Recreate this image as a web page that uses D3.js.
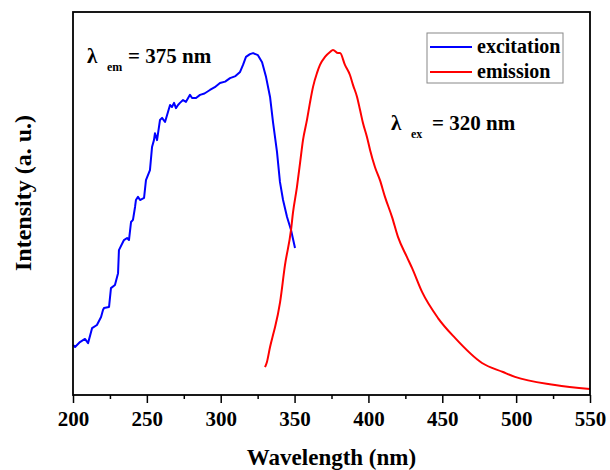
<!DOCTYPE html>
<html>
<head>
<meta charset="utf-8">
<script src="https://cdn.jsdelivr.net/npm/d3@7"></script>
<style>
  body { margin: 0; background: #fff; }
</style>
</head>
<body>
<div id="chart"></div>
<script>
// excitation spectrum (lambda_em = 375 nm)
var excWl = [200, 201.4, 204.7, 208.1, 210.2, 212.9, 216.2, 219.0, 220.3, 221.0, 224.4, 225.7, 228.4, 230.5, 231.1,
  234.5, 236.6, 237.9, 239.3, 240.6, 242.0, 242.6, 244.0, 245.4, 248.1, 249.4, 252.1, 253.5, 254.8, 255.5,
  256.9, 258.9, 260.3, 262.3, 264.3, 265.7, 267.0, 268.4, 269.7, 271.1, 272.4, 274.5, 276.5, 279.2, 280.6,
  283.3, 286.0, 289.0, 292.7, 296.0, 299.5, 303.0, 306.3, 310.0, 313.1, 315.1, 317.1, 319.8, 321.9, 325.2,
  328.0, 330.7, 333.4, 335.4, 338.1, 340.1, 342.2, 344.9, 347.6, 350.3];
var excInt = [0.144, 0.138, 0.152, 0.161, 0.149, 0.192, 0.201, 0.224, 0.244, 0.250, 0.253, 0.307, 0.316, 0.350, 0.416,
  0.445, 0.451, 0.445, 0.497, 0.503, 0.540, 0.560, 0.569, 0.560, 0.566, 0.617, 0.646, 0.712, 0.732, 0.752,
  0.732, 0.790, 0.796, 0.784, 0.813, 0.833, 0.827, 0.839, 0.824, 0.833, 0.839, 0.847, 0.842, 0.862, 0.853,
  0.853, 0.862, 0.866, 0.876, 0.884, 0.896, 0.900, 0.910, 0.916, 0.928, 0.948, 0.971, 0.979, 0.982, 0.976,
  0.956, 0.913, 0.856, 0.784, 0.698, 0.612, 0.560, 0.511, 0.474, 0.422];

// emission spectrum (lambda_ex = 320 nm)
var emWl = [330.0, 331.3, 333.4, 335.4, 336.8, 340.2, 343.5, 347.6, 348.9, 351.6, 353.7, 355.7, 358.4, 360.4, 362.5,
  365.2, 367.2, 370.6, 374.0, 376.0, 379.4, 380.8, 384.1, 387.5, 389.6, 392.3, 394.3, 396.3, 399.0, 401.1,
  404.4, 407.8, 411.2, 416.0, 420.0, 426.1, 429.5, 436.3, 447.1, 458.6, 476.9, 491.1, 499.2, 526.3, 550.0];
var emInt = [0.080, 0.095, 0.138, 0.172, 0.195, 0.267, 0.373, 0.474, 0.523, 0.597, 0.666, 0.732, 0.790, 0.839, 0.885,
  0.925, 0.948, 0.971, 0.985, 0.991, 0.982, 0.982, 0.948, 0.919, 0.890, 0.856, 0.819, 0.781, 0.741, 0.704,
  0.655, 0.617, 0.569, 0.511, 0.454, 0.396, 0.365, 0.296, 0.221, 0.164, 0.092, 0.066, 0.052, 0.029, 0.017];

var majorTicks = [200, 250, 300, 350, 400, 450, 500, 550];
var minorTicks = [225, 275, 325, 375, 425, 475, 525];
var seriesNames = ["excitation", "emission"];
var seriesColors = ["#0000ff", "#ff0000"];

var FONT = "'Liberation Serif', 'Times New Roman', Tinos, 'DejaVu Serif', serif";

var W = 610, H = 470;
var margin = { top: 12, right: 20, bottom: 75, left: 73 };
var pw = W - margin.left - margin.right;
var ph = H - margin.top - margin.bottom;

var svg = d3.select("#chart").append("svg")
  .attr("width", W)
  .attr("height", H)
  .attr("font-family", FONT)
  .attr("font-weight", "bold");

var g = svg.append("g")
  .attr("transform", "translate(" + margin.left + "," + margin.top + ")");

var x = d3.scaleLinear().domain([200, 550]).range([0, pw]);
var y = d3.scaleLinear().domain([0, 1.1]).range([ph, 0]);

function txt(sel, size){
  return sel.style("font-family", FONT).style("font-weight", "bold")
    .style("font-size", size + "px").attr("fill", "#000");
}

// bottom axis, major + minor ticks
var xAxis = g.append("g")
  .attr("transform", "translate(0," + ph + ")")
  .call(d3.axisBottom(x).tickValues(majorTicks).tickSize(8).tickFormat(d3.format("d")));
xAxis.select(".domain").remove();
xAxis.selectAll("line").attr("stroke", "#000").attr("stroke-width", 1.5);
txt(xAxis.selectAll("text"), 21)
  .attr("y", 31)
  .attr("dy", 0);

var xMinor = g.append("g")
  .attr("transform", "translate(0," + ph + ")")
  .call(d3.axisBottom(x).tickValues(minorTicks).tickSize(4).tickFormat(""));
xMinor.select(".domain").remove();
xMinor.selectAll("line").attr("stroke", "#000").attr("stroke-width", 1.5);

// curves
var line = d3.line()
  .x(function(d){ return x(d[0]); })
  .y(function(d){ return y(d[1]); });

var smoothLine = d3.line()
  .curve(d3.curveMonotoneX)
  .x(function(d){ return x(d[0]); })
  .y(function(d){ return y(d[1]); });

var excData = excWl.map(function(w, i){ return [w, excInt[i]]; });
var emData = emWl.map(function(w, i){ return [w, emInt[i]]; });

g.append("path")
  .datum(excData)
  .attr("fill", "none")
  .attr("stroke", seriesColors[0])
  .attr("stroke-width", 2)
  .attr("stroke-linejoin", "round")
  .attr("d", line);

g.append("path")
  .datum(emData)
  .attr("fill", "none")
  .attr("stroke", seriesColors[1])
  .attr("stroke-width", 2)
  .attr("stroke-linejoin", "round")
  .attr("d", smoothLine);

// frame
g.append("rect")
  .attr("x", 0).attr("y", 0)
  .attr("width", pw).attr("height", ph)
  .attr("fill", "none")
  .attr("stroke", "#000")
  .attr("stroke-width", 1.8);

// legend
var lg = svg.append("g").attr("transform", "translate(427,33)");
lg.append("rect")
  .attr("width", 136).attr("height", 50)
  .attr("fill", "#fff")
  .attr("stroke", "#888")
  .attr("stroke-width", 1);
seriesNames.forEach(function(name, i){
  lg.append("line")
    .attr("x1", 3).attr("x2", 45)
    .attr("y1", 14 + i * 25).attr("y2", 14 + i * 25)
    .attr("stroke", seriesColors[i])
    .attr("stroke-width", 2);
  txt(lg.append("text"), 20)
    .attr("x", 50)
    .attr("y", 20 + i * 25)
    .text(name);
});

// annotations
function lambdaLabel(px, py, sub, rest){
  txt(svg.append("text"), 21).attr("x", px).attr("y", py).text("λ");
  txt(svg.append("text"), 12).attr("x", px + 20).attr("y", py + 8).text(sub);
  txt(svg.append("text"), 21).attr("x", px + 41).attr("y", py).text(rest);
}
lambdaLabel(87, 63, "em", "= 375 nm");
lambdaLabel(391, 130, "ex", "= 320 nm");

// axis titles
txt(svg.append("text"), 23)
  .attr("text-anchor", "middle")
  .attr("x", margin.left + pw / 2)
  .attr("y", 465)
  .text("Wavelength (nm)");

txt(svg.append("text"), 24)
  .attr("text-anchor", "middle")
  .attr("transform", "translate(31," + 193 + ") rotate(-90)")
  .text("Intensity (a. u.)");
</script>
</body>
</html>
